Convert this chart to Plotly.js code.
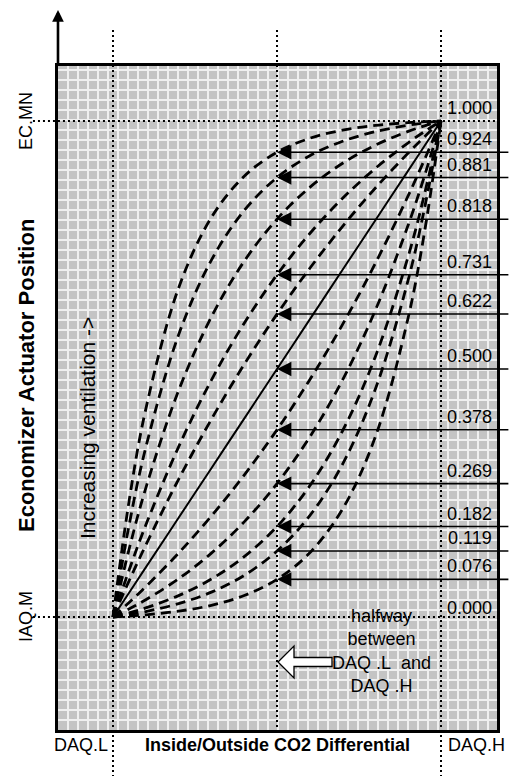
<!DOCTYPE html>
<html>
<head>
<meta charset="utf-8">
<script src="https://cdn.plot.ly/plotly-3.0.1.min.js"></script>
<style>
  html, body { margin: 0; padding: 0; background: #ffffff; }
  #chart { width: 509px; height: 776px; }
</style>
</head>
<body>
<div id="chart"></div>
<script>
// ---------- data ----------
// x positions: 0 = DAQ.L, 0.5 = halfway, 1 = DAQ.H
const xs = [0, 0.05, 0.1, 0.2, 0.3, 0.4, 0.5, 0.6, 0.7, 0.8, 0.9, 0.95, 1];
// y positions: 0 = IAQ.M, 1 = EC.MN
const c0924 = [0, 0.2377, 0.4192, 0.6634, 0.8057, 0.8887, 0.9370, 0.9652, 0.9816, 0.9912, 0.9968, 0.9986, 1];
const c0881 = [0, 0.1884, 0.3420, 0.5690, 0.7196, 0.8196, 0.8859, 0.9300, 0.9592, 0.9786, 0.9915, 0.9962, 1];
const c0818 = [0, 0.1391, 0.2600, 0.4566, 0.6051, 0.7173, 0.8022, 0.8663, 0.9148, 0.9514, 0.9791, 0.9903, 1];
const c0731 = [0, 0.0963, 0.1853, 0.3431, 0.4777, 0.5923, 0.6900, 0.7732, 0.8442, 0.9046, 0.9561, 0.9789, 1];
const c0622 = [0, 0.0742, 0.1450, 0.2776, 0.3987, 0.5094, 0.6106, 0.7031, 0.7876, 0.8649, 0.9355, 0.9685, 1];
const c0500 = [0, 0.05, 0.1, 0.2, 0.3, 0.4, 0.5, 0.6, 0.7, 0.8, 0.9, 0.95, 1];
const c0378 = [0, 0.0298, 0.0612, 0.1289, 0.2036, 0.2862, 0.3775, 0.4785, 0.5900, 0.7132, 0.8495, 0.9228, 1];
const c0269 = [0, 0.0165, 0.0347, 0.0770, 0.1287, 0.1918, 0.2689, 0.3631, 0.4782, 0.6187, 0.7904, 0.8899, 1];
const c0182 = [0, 0.0085, 0.0183, 0.0431, 0.0765, 0.1216, 0.1824, 0.2646, 0.3755, 0.5252, 0.7272, 0.8534, 1];
const c0119 = [0, 0.0050, 0.0110, 0.0269, 0.0501, 0.0839, 0.1330, 0.2044, 0.3083, 0.4597, 0.6798, 0.8249, 1];
const c0076 = [0, 0.0019, 0.0044, 0.0117, 0.0236, 0.0433, 0.0759, 0.1295, 0.2179, 0.3636, 0.6039, 0.7773, 1];

const curves = [c0924, c0881, c0818, c0731, c0622, c0500, c0378, c0269, c0182, c0119, c0076];
const curveIsSolid = [false, false, false, false, false, true, false, false, false, false, false];

// right-hand labels and where their arrows meet the halfway line
const labels  = ['1.000', '0.924', '0.881', '0.818', '0.731', '0.622', '0.500', '0.378', '0.269', '0.182', '0.119', '0.076', '0.000'];
const arrowAt = [1, 0.937, 0.886, 0.802, 0.690, 0.611, 0.500, 0.3775, 0.2689, 0.1824, 0.133, 0.0759, 0];
const hasArrow = [false, true, true, true, true, true, true, true, true, true, true, true, false];

// reference positions
const xRefs = [0, 0.5, 1];          // DAQ.L, halfway, DAQ.H
const yRefs = [0, 1];               // IAQ.M, EC.MN
const xTickText = ['DAQ.L', 'DAQ.H'];
const yTickText = ['IAQ.M', 'EC.MN'];

// ---------- figure ----------
const FONT = 'Liberation Sans, Arial, Helvetica, sans-serif';
const W = 509, H = 776;

const traces = [];
// empty trace for the background grid subplot
traces.push({ x: [], y: [], xaxis: 'x', yaxis: 'y', type: 'scatter', mode: 'lines', showlegend: false, hoverinfo: 'skip' });

curves.forEach(function (c, i) {
  traces.push({
    x: xs, y: c, xaxis: 'x2', yaxis: 'y2', type: 'scatter', mode: 'lines',
    line: { color: '#000000', width: curveIsSolid[i] ? 2 : 2.8, dash: curveIsSolid[i] ? 'solid' : '10px,6px', shape: 'spline', smoothing: 1 },
    showlegend: false, hoverinfo: 'skip'
  });
});

const shapes = [];
// grey background of the box (drawn under the white grid lines)
shapes.push({ type: 'rect', xref: 'x domain', yref: 'y domain', x0: 0, x1: 1, y0: 0, y1: 1,
  fillcolor: '#c4c4c4', line: { width: 0 }, layer: 'below' });

// dotted reference lines
const dotLine = { color: '#000000', width: 2, dash: '2px,3px' };
shapes.push({ type: 'line', xref: 'x2', yref: 'y2', x0: xRefs[0], x1: xRefs[0], y0: 1.1835, y1: -0.33, line: dotLine });
shapes.push({ type: 'line', xref: 'x2', yref: 'y2', x0: xRefs[1], x1: xRefs[1], y0: 1.1835, y1: -0.2278, line: dotLine });
shapes.push({ type: 'line', xref: 'x2', yref: 'y2', x0: xRefs[2], x1: xRefs[2], y0: 1.1835, y1: -0.33, line: dotLine });
yRefs.forEach(function (v) {
  shapes.push({ type: 'line', xref: 'x2', yref: 'y2', x0: -0.244, x1: 1.1707, y0: v, y1: v, line: dotLine });
});

// hollow block arrow pointing to the halfway line
shapes.push({ type: 'path', xref: 'x2', yref: 'y2', xsizemode: 'pixel', ysizemode: 'pixel',
  xanchor: xRefs[1], yanchor: -0.0907,
  path: 'M 1 0 L 17 16 L 17 4.5 L 55 4.5 L 55 -4.5 L 17 -4.5 L 17 -16 Z',
  fillcolor: '#ffffff', line: { color: '#000000', width: 1.3 } });

const annotations = [];
// labels and arrows
labels.forEach(function (t, i) {
  annotations.push({
    xref: 'x2', yref: 'y2', x: 1.162, y: arrowAt[i], text: t, showarrow: false,
    xanchor: 'right', yanchor: 'bottom', yshift: (i === labels.length - 1) ? -3 : 1,
    font: { family: FONT, size: 18, color: '#000000' }
  });
  if (hasArrow[i]) {
    annotations.push({
      xref: 'x2', yref: 'y2', x: xRefs[1], y: arrowAt[i], axref: 'x2', ayref: 'y2',
      ax: 1.21, ay: arrowAt[i], text: '', showarrow: true,
      arrowhead: 2, arrowsize: 1.8, arrowwidth: 1.6, arrowcolor: '#000000', standoff: 0
    });
  }
});

// vertical axis arrow
annotations.push({
  xref: 'x2', yref: 'y2', x: -0.1677, y: 1.2238, axref: 'x2', ayref: 'y2', ax: -0.1677, ay: 1.11,
  text: '', showarrow: true, arrowhead: 2, arrowsize: 0.9, arrowwidth: 2.6, arrowcolor: '#000000', standoff: 0
});

// tick-like labels
annotations.push({ xref: 'x2', yref: 'y2', x: xRefs[0], y: -0.258, text: xTickText[0], showarrow: false,
  xanchor: 'right', yanchor: 'middle', xshift: -3, font: { family: FONT, size: 18, color: '#000000' } });
annotations.push({ xref: 'x2', yref: 'y2', x: xRefs[2], y: -0.258, text: xTickText[1], showarrow: false,
  xanchor: 'left', yanchor: 'middle', xshift: 5, font: { family: FONT, size: 18, color: '#000000' } });
annotations.push({ xref: 'x2', yref: 'y2', x: -0.265, y: yRefs[0], text: yTickText[0], showarrow: false,
  textangle: -90, xanchor: 'center', yanchor: 'middle', font: { family: FONT, size: 18, color: '#000000' } });
annotations.push({ xref: 'x2', yref: 'y2', x: -0.265, y: yRefs[1], text: yTickText[1], showarrow: false,
  textangle: -90, xanchor: 'center', yanchor: 'middle', font: { family: FONT, size: 18, color: '#000000' } });

// axis titles
annotations.push({ xref: 'x2', yref: 'y2', x: 0.5, y: -0.258, text: '<b>Inside/Outside CO2 Differential</b>', showarrow: false,
  xanchor: 'center', yanchor: 'middle', font: { family: FONT, size: 18, color: '#000000' } });
annotations.push({ xref: 'x2', yref: 'y2', x: -0.262, y: 0.486, text: '<b>Economizer Actuator Position</b>', showarrow: false,
  textangle: -90, xanchor: 'center', yanchor: 'middle', font: { family: FONT, size: 22, color: '#000000' } });

// inner texts
annotations.push({ xref: 'x2', yref: 'y2', x: -0.079, y: 0.381, text: 'Increasing ventilation ->', showarrow: false,
  textangle: -90, xanchor: 'center', yanchor: 'middle', font: { family: FONT, size: 21, color: '#000000' } });
annotations.push({ xref: 'x2', yref: 'y2', x: 0.82, y: -0.068, text: 'halfway<br>between<br>DAQ .L\u00a0\u00a0and<br>DAQ .H', showarrow: false,
  xanchor: 'center', yanchor: 'middle', align: 'center', font: { family: FONT, size: 18, color: '#000000' } });

const layout = {
  width: W, height: H,
  margin: { l: 0, r: 0, t: 0, b: 0, pad: 0 },
  paper_bgcolor: '#ffffff', plot_bgcolor: 'rgba(0,0,0,0)',
  showlegend: false,
  xaxis: {
    domain: [58 / W, 497 / W], anchor: 'y', range: [0, 439], dtick: 10, tick0: 0,
    showgrid: true, gridcolor: '#f0f0f0', gridwidth: 2, zeroline: false,
    showticklabels: false, ticks: '', showline: true, mirror: true, linecolor: '#000000', linewidth: 3, fixedrange: true
  },
  yaxis: {
    domain: [1 - 730 / H, 1 - 66 / H], anchor: 'x', range: [0, 664], dtick: 10, tick0: 0,
    showgrid: true, gridcolor: '#f0f0f0', gridwidth: 2, zeroline: false,
    showticklabels: false, ticks: '', showline: true, mirror: true, linecolor: '#000000', linewidth: 3, fixedrange: true
  },
  xaxis2: { domain: [0, 1], anchor: 'y2', range: [-0.3445, 1.2073], visible: false, fixedrange: true },
  yaxis2: { domain: [0, 1], anchor: 'x2', range: [-0.3206, 1.2440], visible: false, fixedrange: true },
  shapes: shapes,
  annotations: annotations
};

Plotly.newPlot('chart', traces, layout, { displayModeBar: false, staticPlot: true });
</script>
</body>
</html>
